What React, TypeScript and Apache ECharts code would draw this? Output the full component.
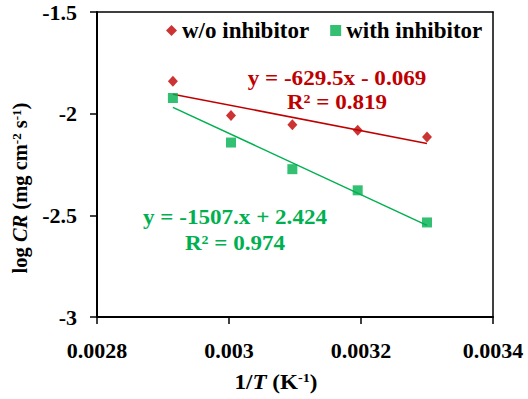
import React, { useEffect, useRef } from "react";
import * as echarts from "echarts";

const invT = [0.002915, 0.003003, 0.003096, 0.003195, 0.0033];
const logCRwithout = [-1.841, -2.009, -2.054, -2.082, -2.115];
const logCRwith = [-1.923, -2.142, -2.273, -2.377, -2.535];
const fitWithout = { slope: -629.5, intercept: -0.069 };
const fitWith = { slope: -1507, intercept: 2.424 };
const xTicks = { min: 0.0028, max: 0.0034, interval: 0.0002 };
const yTicks = { min: -3, max: -1.5, interval: 0.5 };

const RED = "#C00000";
const GREEN = "#00B050";
const FONT = "Liberation Serif";

function fitLine(fit: { slope: number; intercept: number }) {
  const x0 = invT[0];
  const x1 = invT[invT.length - 1];
  return [
    [x0, fit.slope * x0 + fit.intercept],
    [x1, fit.slope * x1 + fit.intercept],
  ];
}

export default function App() {
  const ref = useRef<HTMLDivElement>(null);
  useEffect(() => {
    if (!ref.current) return;
    const chart = echarts.init(ref.current, undefined, { renderer: "svg" });
    const base = { fontFamily: FONT, fontWeight: "bold" as const, color: "#000" };
    const annot = (text: string, x: number, y: number, fill: string) => ({
      type: "text",
      x,
      y,
      scaleX: 1.1,
      style: { text, fill, font: `bold 21px "${FONT}"`, align: "center", verticalAlign: "middle" },
    });
    chart.setOption({
      animation: false,
      backgroundColor: "#fff",
      grid: { left: 97, top: 12, right: 35, bottom: 82, containLabel: false },
      legend: {
        left: 161,
        top: 14,
        itemWidth: 11,
        itemHeight: 11,
        itemGap: 21,
        textStyle: { ...base, fontSize: 23 },
        data: [
          { name: "w/o inhibitor", icon: "diamond" },
          { name: "with inhibitor", icon: "rect" },
        ],
      },
      xAxis: [
        {
          type: "value",
          min: xTicks.min,
          max: xTicks.max,
          interval: xTicks.interval,
          axisLine: { show: true, lineStyle: { color: "#000", width: 2 } },
          axisTick: { show: true, inside: false, length: 7, lineStyle: { color: "#000", width: 1.5 } },
          splitLine: { show: false },
          axisLabel: {
            ...base,
            fontSize: 22,
            margin: 22,
            formatter: (v: number) => String(Number(v.toFixed(4))),
          },
        },
        {
          type: "value",
          position: "top",
          min: xTicks.min,
          max: xTicks.max,
          axisLine: { show: true, lineStyle: { color: "#000", width: 1.5 } },
          axisTick: { show: false },
          axisLabel: { show: false },
          splitLine: { show: false },
        },
      ],
      yAxis: [
        {
          type: "value",
          min: yTicks.min,
          max: yTicks.max,
          interval: yTicks.interval,
          axisLine: { show: true, lineStyle: { color: "#000", width: 2 } },
          axisTick: { show: true, inside: false, length: 7, lineStyle: { color: "#000", width: 1.5 } },
          splitLine: { show: false },
          axisLabel: { ...base, fontSize: 22, margin: 20 },
        },
        {
          type: "value",
          position: "right",
          min: yTicks.min,
          max: yTicks.max,
          axisLine: { show: true, lineStyle: { color: "#000", width: 1.5 } },
          axisTick: { show: false },
          axisLabel: { show: false },
          splitLine: { show: false },
        },
      ],
      series: [
        {
          name: "w/o inhibitor",
          type: "scatter",
          symbol: "diamond",
          symbolSize: [10, 11],
          itemStyle: { color: RED },
          data: invT.map((x, i) => [x, logCRwithout[i]]),
          z: 5,
        },
        {
          name: "with inhibitor",
          type: "scatter",
          symbol: "rect",
          symbolSize: 10,
          itemStyle: { color: GREEN },
          data: invT.map((x, i) => [x, logCRwith[i]]),
          z: 5,
        },
        {
          name: "fit-without",
          type: "line",
          showSymbol: false,
          symbol: "none",
          lineStyle: { color: RED, width: 1.5 },
          data: fitLine(fitWithout),
          z: 3,
        },
        {
          name: "fit-with",
          type: "line",
          showSymbol: false,
          symbol: "none",
          lineStyle: { color: GREEN, width: 1.5 },
          data: fitLine(fitWith),
          z: 3,
        },
      ],
      graphic: [
        annot("y = -629.5x - 0.069", 337, 78, RED),
        annot("R² = 0.819", 337, 102, RED),
        annot("y = -1507.x + 2.424", 235, 217, GREEN),
        annot("R² = 0.974", 235, 243, GREEN),
        {
          type: "text",
          x: 20,
          y: 188,
          rotation: Math.PI / 2,
          style: {
            text: "{b|log }{i|CR}{b| (mg cm}{s|-2}{b| s}{s|-1}{b|)}",
            align: "center",
            verticalAlign: "middle",
            fill: "#000",
            rich: {
              b: { fontFamily: FONT, fontWeight: "bold", fontSize: 20.5, color: "#000" },
              i: { fontFamily: FONT, fontWeight: "bold", fontStyle: "italic", fontSize: 20.5, color: "#000" },
              s: { fontFamily: FONT, fontWeight: "bold", fontSize: 13, color: "#000", verticalAlign: "top", padding: [0, 0, 8, 0] },
            },
          },
        },
        {
          type: "text",
          x: 276,
          y: 382,
          scaleX: 1.1,
          style: {
            text: "{b|1/}{i|T}{b| (K}{s|-1}{b|)}",
            align: "center",
            verticalAlign: "middle",
            fill: "#000",
            rich: {
              b: { fontFamily: FONT, fontWeight: "bold", fontSize: 21, color: "#000" },
              i: { fontFamily: FONT, fontWeight: "bold", fontStyle: "italic", fontSize: 21, color: "#000" },
              s: { fontFamily: FONT, fontWeight: "bold", fontSize: 13, color: "#000", verticalAlign: "top", padding: [0, 0, 8, 0] },
            },
          },
        },
      ],
    });
    return () => chart.dispose();
  }, []);
  return (
    <div
      ref={ref}
      style={{ position: "fixed", left: 0, top: 0, width: 528, height: 399, background: "#fff" }}
    />
  );
}
